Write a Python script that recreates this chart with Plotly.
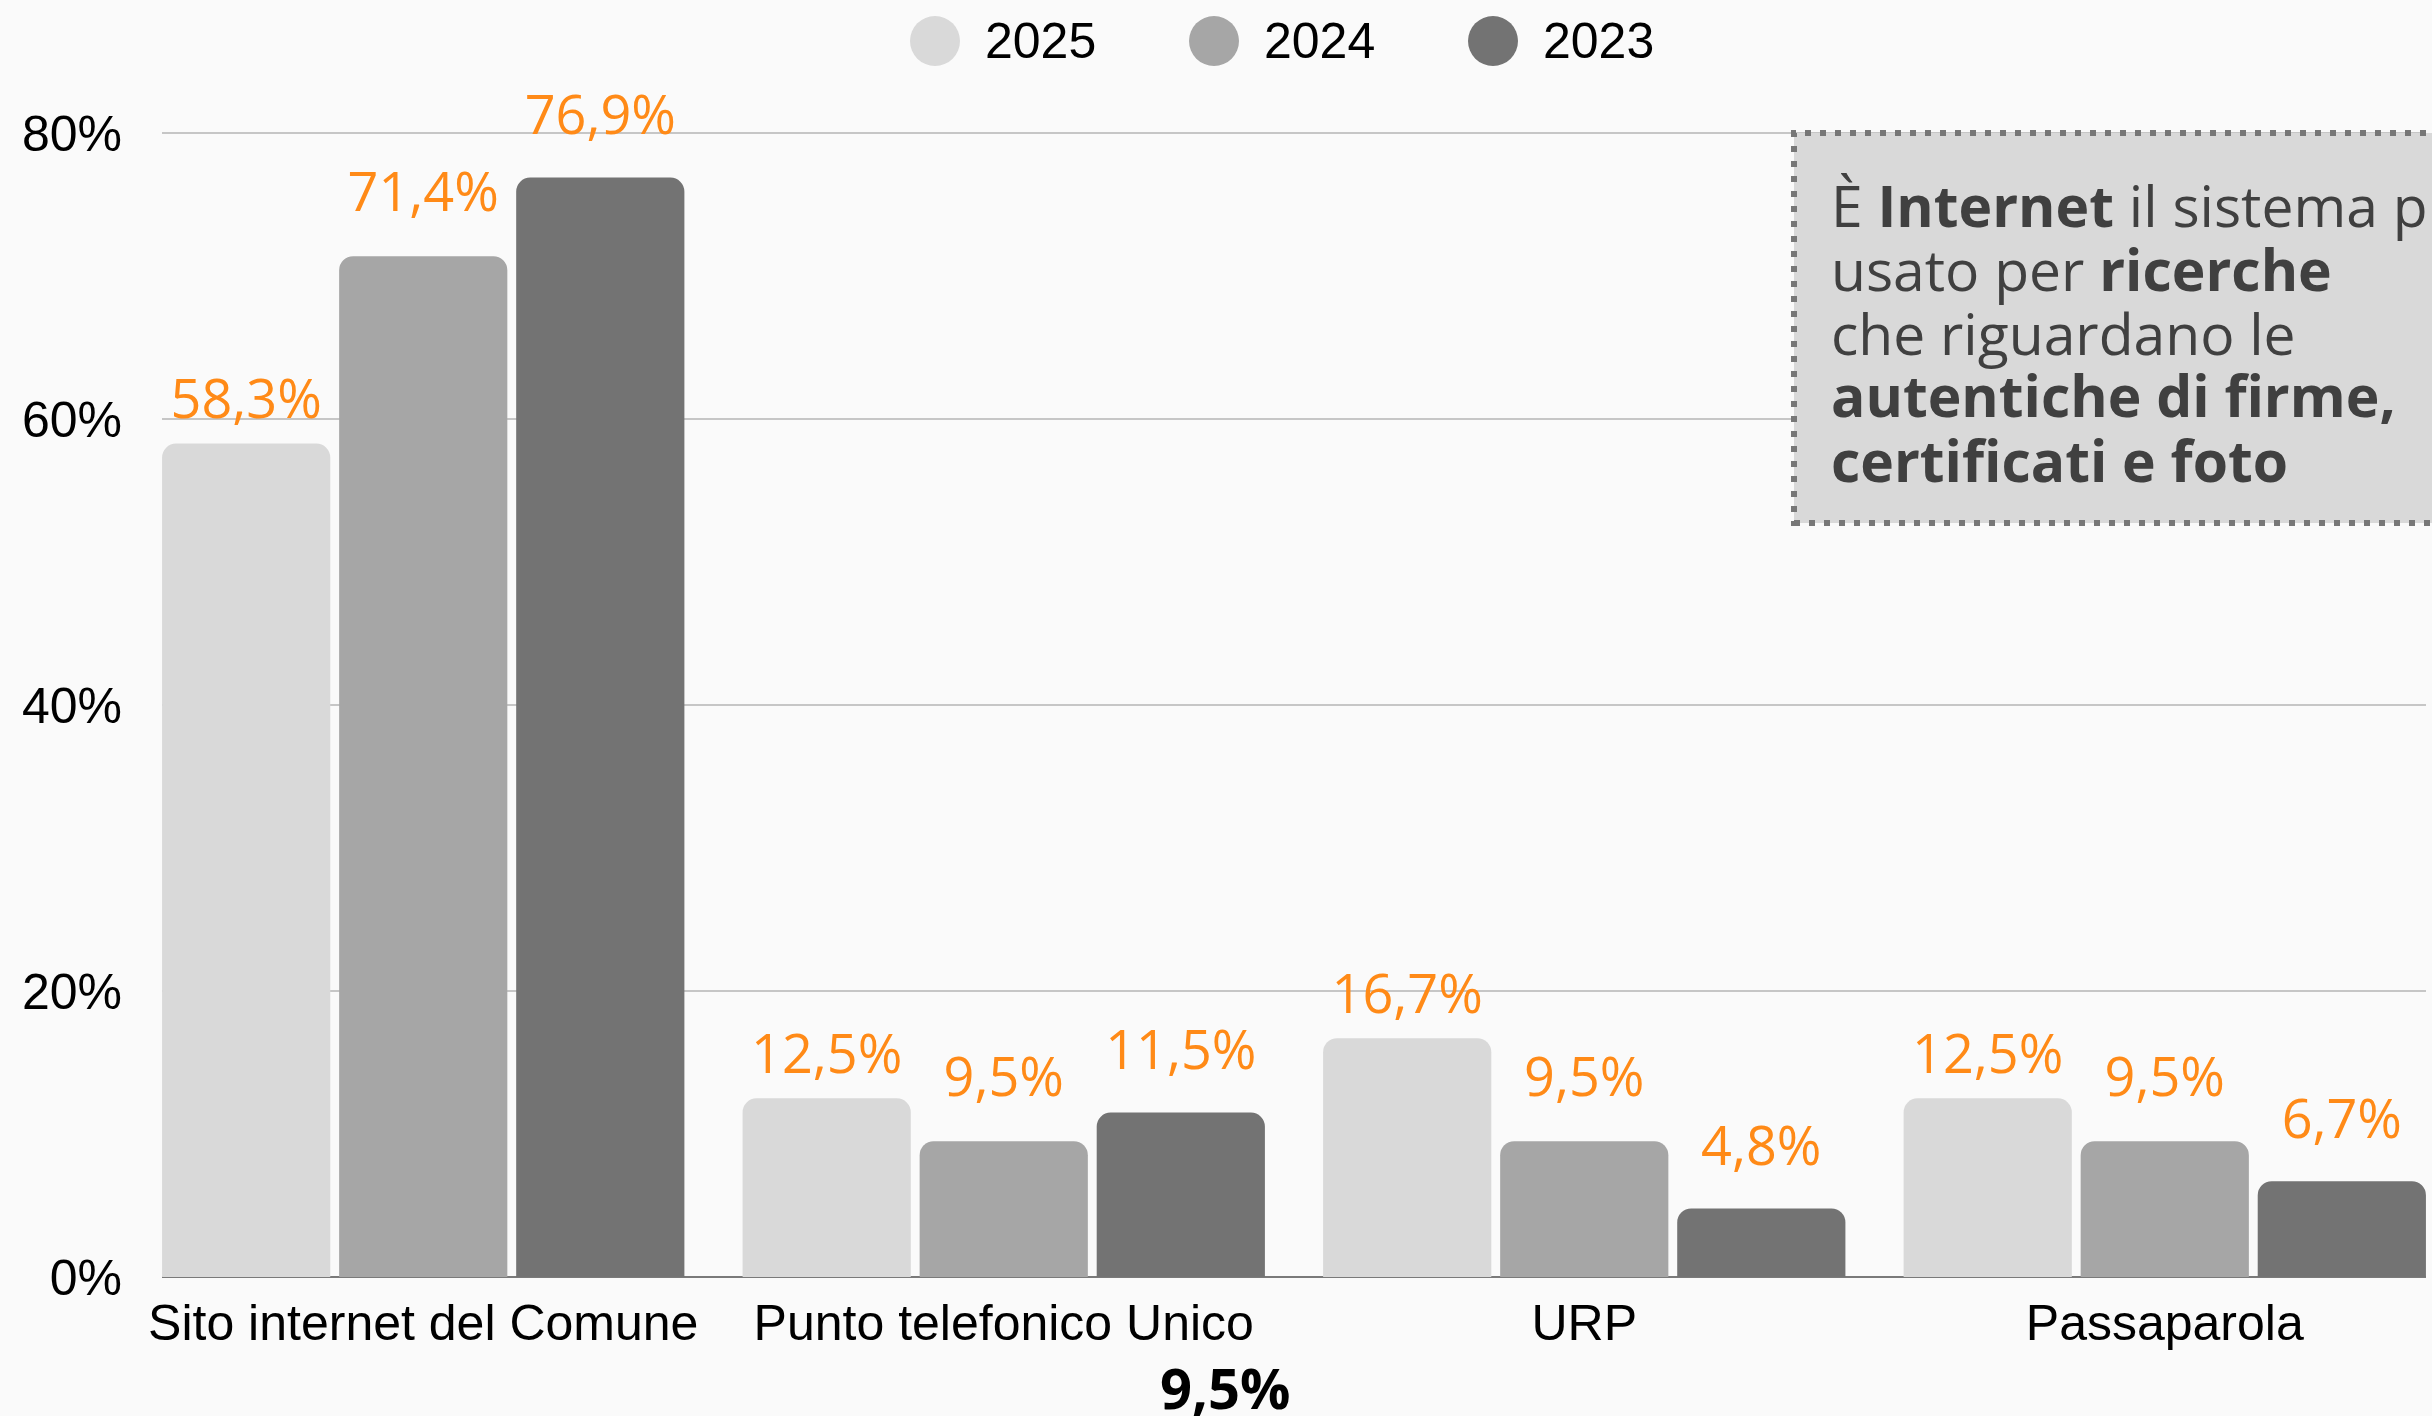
import plotly.graph_objects as go

# Dati
categories = ["Sito internet del Comune", "Punto telefonico Unico", "URP", "Passaparola"]
years = ["2025", "2024", "2023"]
values_2025 = [58.3, 12.5, 16.7, 12.5]
values_2024 = [71.4, 9.5, 9.5, 9.5]
values_2023 = [76.9, 11.5, 4.8, 6.7]
bar_colors = ["#d9d9d9", "#a6a6a6", "#737373"]
y_ticks = [0, 20, 40, 60, 80]
y_ticktext = [f"{v}%" for v in y_ticks]

box_lines = [
    "È <b>Internet</b> il sistema più",
    "usato per <b>ricerche</b>",
    "che riguardano le",
    "<b>autentiche di firme,</b>",
    "<b>certificati e foto</b>",
]
stray_label = "9,5%"

W, H = 2432, 1416
M = {"l": 162, "r": 6, "t": 119, "b": 139}
PW = W - M["l"] - M["r"]
PH = H - M["t"] - M["b"]


def px_x(px):
    return (px - M["l"]) / PW


def px_y(py):
    return (H - M["b"] - py) / PH


ORANGE = "#ff8a17"
TICK_FONT = "Liberation Sans, Arial, sans-serif"
TEXT_FONT = "Open Sans, Noto Sans, sans-serif"
series = list(zip(years, [values_2025, values_2024, values_2023], bar_colors))
# distanza etichetta-barra (dimensione del marker invisibile)
label_pad = [18, 49, 46]

fig = go.Figure()
for name, vals, col in series:
    fig.add_trace(go.Bar(
        x=categories, y=vals, name=name,
        marker=dict(color=col, line=dict(width=0), cornerradius=14),
        showlegend=False, hoverinfo="skip",
    ))

# etichette dei valori (scatter raggruppati come le barre)
for (name, vals, col), pad in zip(series, label_pad):
    fig.add_trace(go.Scatter(
        x=categories, y=vals, name=name, mode="markers+text",
        marker=dict(size=pad, opacity=0),
        texttemplate="%{y:.1f}%", textposition="top center",
        textfont=dict(family=TEXT_FONT, size=54, color=ORANGE, weight=500),
        cliponaxis=False, showlegend=False,
    ))

# legenda manuale con cerchi grandi
shapes = []
annotations = []
leg_x = [935, 1214, 1493]
for name, col, cx in zip(years, bar_colors, leg_x):
    shapes.append(dict(
        type="circle", xref="paper", yref="paper",
        x0=px_x(cx - 25), x1=px_x(cx + 25), y0=px_y(66), y1=px_y(16),
        fillcolor=col, line=dict(width=0), layer="above",
    ))
    annotations.append(dict(
        text=name, xref="paper", yref="paper", x=px_x(cx + 48), y=px_y(41),
        xanchor="left", yanchor="middle", showarrow=False,
        font=dict(family=TICK_FONT, size=50, color="#000000"),
    ))

# box di commento
shapes.append(dict(
    type="rect", xref="paper", yref="paper",
    x0=px_x(1794), x1=px_x(2500), y0=px_y(523), y1=px_y(133),
    fillcolor="#d9d9d9", line=dict(color="#777777", width=6, dash="6px,9px"),
    layer="above",
))
baselines = [227, 291, 355, 417, 482]
for line, base in zip(box_lines, baselines):
    annotations.append(dict(
        text=line, xref="paper", yref="paper", x=px_x(1829), y=px_y(base - 22),
        xanchor="left", yanchor="middle", align="left", showarrow=False,
        font=dict(family=TEXT_FONT, size=57, color="#404040"),
    ))

annotations.append(dict(
    text=f"<b>{stray_label}</b>", xref="paper", yref="paper",
    x=px_x(1225), y=px_y(1387),
    xanchor="center", yanchor="middle", showarrow=False,
    font=dict(family=TEXT_FONT, size=56, color="#000000"),
))

fig.update_layout(
    width=W, height=H, margin=M,
    paper_bgcolor="#fafafa", plot_bgcolor="#fafafa",
    barmode="group", bargap=0.085, bargroupgap=0.05,
    scattermode="group", scattergap=0.085,
    separators=",.",
    shapes=shapes, annotations=annotations,
    showlegend=False,
)
fig.update_xaxes(
    type="category", range=[-0.45, 3.45], showgrid=False, showline=False,
    ticks="", ticklabelstandoff=12,
    tickfont=dict(family=TICK_FONT, size=50, color="#000000"),
)
fig.update_yaxes(
    range=[0, 81], tickmode="array", tickvals=y_ticks, ticktext=y_ticktext,
    showgrid=True, gridcolor="#c6c6c6", gridwidth=1.5,
    zeroline=True, zerolinecolor="#7a7a7a", zerolinewidth=1.5,
    ticks="", ticklabelstandoff=39,
    tickfont=dict(family=TICK_FONT, size=50, color="#000000"),
)

fig.write_html(
    "out.html",
    config={"displayModeBar": False},
    post_script="document.body.style.margin='0';",
)
